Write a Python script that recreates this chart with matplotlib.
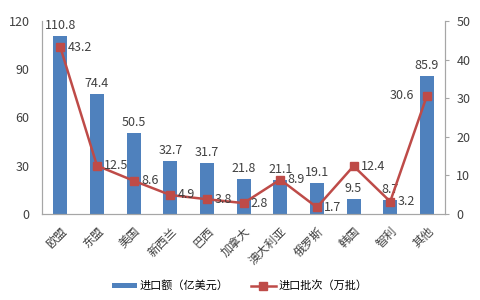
import matplotlib
matplotlib.use("Agg")
import matplotlib.pyplot as plt
import numpy as np

plt.rcParams['font.family'] = ['Noto Sans CJK SC', 'DejaVu Sans']

categories = ["欧盟", "东盟", "美国", "新西兰", "巴西", "加拿大", "澳大利亚", "俄罗斯", "韩国", "智利", "其他"]
import_value = [110.8, 74.4, 50.5, 32.7, 31.7, 21.8, 21.1, 19.1, 9.5, 8.7, 85.9]
import_batches = [43.2, 12.5, 8.6, 4.9, 3.8, 2.8, 8.9, 1.7, 12.4, 3.2, 30.6]

bar_color = "#4F81BD"
line_color = "#BE4B48"
text_color = "#404040"
spine_color = "#A6A6A6"

fig = plt.figure(figsize=(4.8, 3.0), dpi=100)
ax = fig.add_axes([0.0875, 0.287, 0.84, 0.643])
ax2 = ax.twinx()

x = np.arange(len(categories))
bars = ax.bar(x, import_value, width=0.38, color=bar_color, label="进口额（亿美元）", zorder=2)
line, = ax2.plot(x, import_batches, color=line_color, lw=1.8, marker="s", ms=6,
                 label="进口批次（万批）", zorder=3)

ax.set_xlim(-0.5, len(categories) - 0.5)
ax.set_ylim(0, 120)
ax.set_yticks(range(0, 121, 30))
ax2.set_ylim(0, 50)
ax2.set_yticks(range(0, 51, 10))

for a in (ax, ax2):
    for s in a.spines.values():
        s.set_color(spine_color)
        s.set_linewidth(0.8)
    a.spines['top'].set_visible(False)
ax.tick_params(axis='y', labelsize=9, colors=text_color, length=0, pad=9)
ax2.tick_params(axis='y', labelsize=9, colors=text_color, length=3, color=spine_color, pad=5)
ax.tick_params(axis='x', length=0, pad=8)
ax.set_xticks(x)
ax.set_xticklabels(categories, rotation=45, ha='right', rotation_mode='anchor',
                   fontsize=8.5, color=text_color)

for xi, v in zip(x, import_value):
    ax.text(xi, v + 2.5, f"{v}", ha='center', va='bottom', fontsize=9, color=text_color)

for i, (xi, v) in enumerate(zip(x, import_batches)):
    if i == len(categories) - 1:
        ax2.text(xi - 0.35, v, f"{v}", ha='right', va='center', fontsize=9, color=text_color)
    else:
        ax2.text(xi + 0.2, v, f"{v}", ha='left', va='center', fontsize=9, color=text_color)

fig.legend(handles=[bars, line], loc='center', bbox_to_anchor=(0.5, 0.047), ncol=2,
           frameon=False, fontsize=8, handlelength=2.2, handleheight=0.4,
           handletextpad=0.3, columnspacing=2.0)

fig.savefig("out.png", dpi=100)
